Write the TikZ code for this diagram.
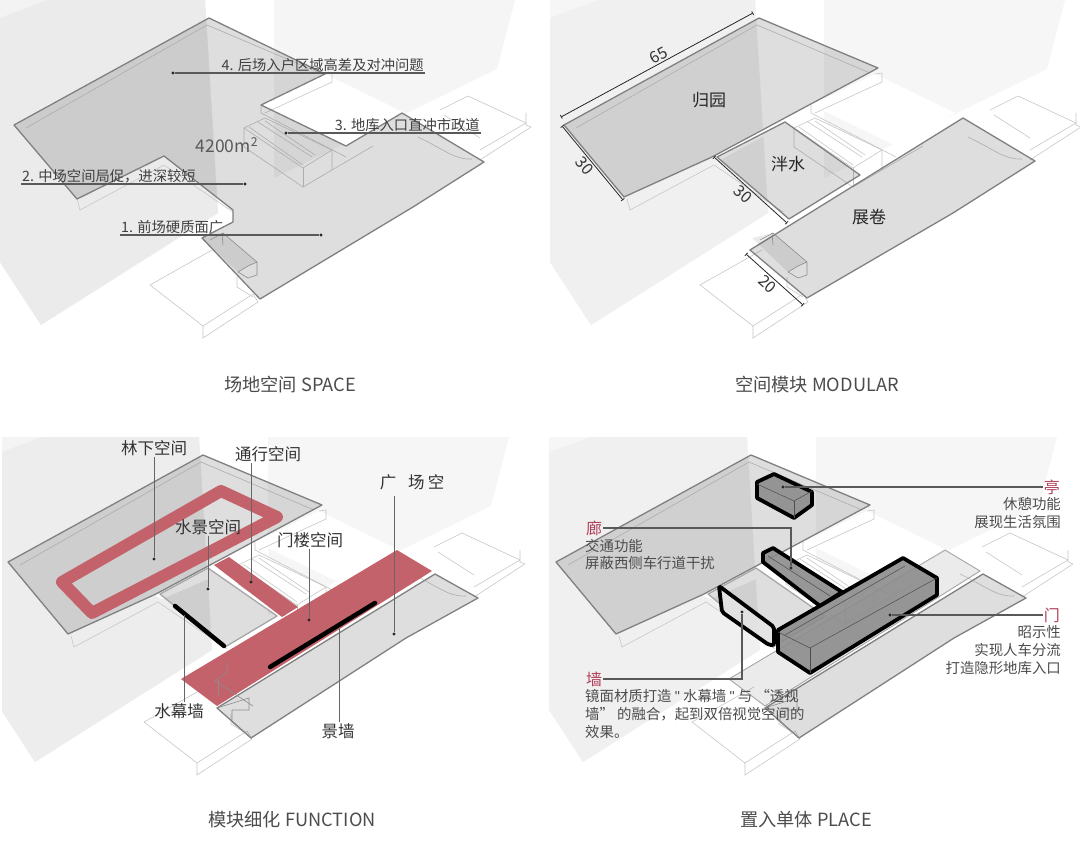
\documentclass[tikz,border=0pt]{standalone}
\usepackage{fontspec}
\setmainfont{Noto Sans CJK SC}
\newfontfamily\quotefont{Liberation Sans}
\usepackage{xcolor}
\usetikzlibrary{arrows.meta,positioning,calc}
\definecolor{blockred}{HTML}{C4626B}
\definecolor{labelred}{HTML}{B0405A}
\tikzset{
  wire/.style    ={draw=black!22, line width=0.6pt},
  modu/.style    ={fill=black, fill opacity=0.13, draw=none},
  moduedge/.style={draw=black!50, line width=1.3pt, line join=round},
  gapw/.style    ={fill=white, draw=none},
  volume/.style  ={draw=black, line width=3.8pt, line join=round, fill=black!45, fill opacity=0.9},
  volline/.style ={draw=black!70, line width=0.5pt},
  rampline/.style={draw=black!45, line width=0.6pt},
  lead/.style    ={draw=black!65, line width=1.1pt},
  leadthin/.style={draw=black!60, line width=0.9pt},
  dotm/.style    ={circle, fill=black!85, inner sep=0pt, minimum size=3.4pt},
  issue/.style   ={font=\fontsize{14.3}{16}\selectfont, text=black!75, inner sep=1pt},
  zone/.style    ={font=\fontsize{16.5}{20}\selectfont, text=black!80, inner sep=1pt},
  modname/.style ={font=\fontsize{17}{20}\selectfont, text=black!85, inner sep=1pt},
  capt/.style    ={font=\fontsize{18.2}{20}\selectfont, text=black!70, inner sep=1pt},
  dimline/.style ={{Bar[width=4pt,length=0.8pt]}-{Bar[width=4pt,length=0.8pt]}, draw=black!85, line width=0.8pt},
  dimnum/.style  ={font=\fontsize{16}{18}\selectfont, text=black!80, inner sep=1.5pt},
  headred/.style ={font=\fontsize{16}{18}\selectfont, text=labelred, inner sep=1pt},
  bodytxt/.style ={font=\fontsize{14.4}{17.7}\selectfont, text=black!70, inner sep=0pt, align=left},
}
% both neighbouring blocks, cut at the panel's left edge (#1)
\newcommand{\neighbours}[3]{
  \colorlet{bldgl}{#2}
  \colorlet{bldgr}{#3}
  \begin{scope}
    \clip (#1,0) rectangle (525,345);
    \fill[bldgl!60!white] (0,0) -- (205,0) -- (218,213) -- (41,325) -- (0,262) -- cycle;
    \fill[bldgl] (0,18) -- (48,0) -- (205,0) -- (218,213) -- (41,325) -- (0,262) -- cycle;
    \fill[bldgr] (274,0) -- (515,0) -- (497,69) -- (274,178) -- cycle;
  \end{scope}
  \fill[gapw] (262,105) -- (325,74) -- (405,113) -- (346,146) -- cycle;
}
\newcommand{\sitewires}{
  \draw[wire] (244,128) -- (265,118) -- (332,150) -- (303,168) -- cycle;
  \draw[wire] (244,128) -- (244,147) -- (303,187) -- (332,170) -- (332,150);
  \draw[wire] (303,168) -- (303,187);
  \draw[wire] (249,127) -- (303,165);
  \draw[wire] (265,121) -- (315,155);
  \draw[wire] (258,122) -- (312,157);
  \draw[wire] (261,105) -- (261,113) -- (346,157);
  \draw[wire] (332,170) -- (373,146);
  \draw[wire] (325,74) -- (332,73) -- (332,82) -- (265,113);
  \draw[wire] (440,110) -- (468,96) -- (526,123) -- (480,150);
  \draw[wire] (526,113) -- (526,125) -- (531,127) -- (480,160);
  \draw[wire] (444,115) -- (480,138);
  \draw[wire] (418,137) .. controls (445,150) and (455,160) .. (472,159);
  \draw[wire] (150,285) -- (212,250);
  \draw[wire] (150,285) -- (203,326) -- (253,294);
  \draw[wire] (203,326) -- (203,338) -- (258,302) -- (253,294);
  \draw[wire] (237,277) -- (237,287) -- (253,297);
  \draw[wire] (77,199) -- (80,210) -- (164,165) -- (233,212);
  \draw[wire] (26,128) -- (207,25) -- (320,73);
}
\newcommand{\ramp}{
  \fill[black, fill opacity=0.08] (202,238) -- (223,233) -- (257,262) -- (248,266) -- (238,272) -- cycle;
  \draw[rampline] (210,240) -- (223,233) -- (257,262) -- (257,275) -- (248,278) -- (238,272) -- (248,266) -- (257,262);
  \draw[rampline] (222,233) -- (223,245);
}
\newcommand{\rampb}{
  \draw[rampline] (223,271) -- (255,261) -- (255,273) -- (238,273) -- (238,285) -- (257,301);
}
% modules shared by the function and place panels
\newcommand{\splitmodules}{
  \fill[gapw] (160,158) -- (225,123) -- (240,131) -- (168,162) -- cycle;
  \fill[modu] (14,125) -- (209,18) -- (328,68) -- (162,157) -- (74,197) -- cycle;
  \draw[moduedge] (14,125) -- (209,18) -- (328,68) -- (162,157) -- (74,197) -- cycle;
  \fill[modu] (166,157) -- (214,131) -- (283,179) -- (231,210) -- cycle;
  \draw[moduedge, draw=black!35] (166,157) -- (214,131) -- (283,179) -- (231,210) -- cycle;
  \fill[modu] (223,271) -- (441,137) -- (484,161) -- (412,201) -- (257,301) -- cycle;
  \draw[moduedge] (223,271) -- (441,137) -- (484,161) -- (412,201) -- (257,301) -- cycle;
}

\begin{document}
\begin{tikzpicture}[x=1pt,y=-1pt]
\useasboundingbox (0,0) rectangle (1080,848);
\fill[white] (0,0) rectangle (1080,848);

% SPACE
\neighbours{0}{black!8}{black!4}
\sitewires
\fill[modu] (209,18) -- (325,74) -- (261,105) -- (346,146) -- (402,113) -- (484,162) -- (413,207) -- (260,299) -- (202,238) -- (233,222) -- (233,210) -- (164,156) -- (77,199) -- (14,125) -- cycle;
\draw[moduedge] (209,18) -- (325,74) -- (261,105) -- (346,146) -- (402,113) -- (484,162) -- (413,207) -- (260,299) -- (202,238) -- (233,222) -- (233,210) -- (164,156) -- (77,199) -- (14,125) -- cycle;
\ramp

\node[dotm] (d4) at (173,73) {};
\node[dotm] (d3) at (286,133) {};
\node[dotm] (d2) at (245,184) {};
\node[dotm] (d1) at (321,235) {};
\node[issue, anchor=south east] (t4) at (425,73) {4. 后场入户区域高差及对冲问题};
\node[issue, anchor=south east] (t3) at (481,133) {3. 地库入口直冲市政道};
\node[issue, anchor=south west] (t2) at (21,184) {2. 中场空间局促，进深较短};
\node[issue, anchor=south west] (t1) at (120,235) {1. 前场硬质面广};
\draw[lead] (t4.south east) -- (d4);
\draw[lead] (t3.south east) -- (d3);
\draw[lead] (t2.south west) -- (d2);
\draw[lead] (t1.south west) -- (d1);
\node[font=\fontsize{17.5}{20}\selectfont, text=black!65] (areatxt) at (227,145) {4200m\textsuperscript{2}};
\node[capt] (capspace) at (290,385) {场地空间 SPACE};

% MODULAR
\begin{scope}[shift={(550,0)}]
  \neighbours{0}{black!6}{black!3.5}
  \fill[gapw] (244,128) -- (265,118) -- (332,150) -- (303,168) -- cycle;
  \fill[gapw] (162,158) -- (225,121) -- (240,122) -- (170,160) -- cycle;
  \sitewires
  \fill[modu] (14,125) -- (209,18) -- (328,68) -- (162,157) -- (74,197) -- cycle;
  \draw[moduedge] (14,125) -- (209,18) -- (328,68) -- (162,157) -- (74,197) -- cycle;
  \fill[modu] (167,157) -- (235,122) -- (310,175) -- (239,219) -- cycle;
  \draw[moduedge] (167,157) -- (235,122) -- (310,175) -- (239,219) -- cycle;
  \fill[modu] (200,250) -- (413,118) -- (485,161) -- (403,213) -- (257,298) -- cycle;
  \draw[moduedge] (200,250) -- (413,118) -- (485,161) -- (403,213) -- (257,298) -- cycle;
  \ramp
\end{scope}
\node[modname] (guiyuan) at (709,100) {归园};
\node[modname] (panshui) at (788,164) {泮水};
\node[modname] (zhanjuan) at (869,217) {展卷};
\coordinate (a65) at (561,117);
\coordinate (b65) at (753,13);
\coordinate (a30) at (562,126);
\coordinate (b30) at (623,200);
\coordinate (c30) at (714,157);
\coordinate (e30) at (787,223);
\coordinate (a20) at (746,254);
\coordinate (b20) at (803,305);
\draw[dimline] (a65) -- node[dimnum, above, sloped, pos=0.53] (n65) {65} (b65);
\draw[dimline] (a30) -- node[dimnum, below, sloped, pos=0.47] (n30a) {30} (b30);
\draw[dimline] (c30) -- node[dimnum, below, sloped, pos=0.47] (n30b) {30} (e30);
\draw[dimline] (a20) -- node[dimnum, below, sloped, pos=0.47] (n20) {20} (b20);
\node[capt] (capmod) at (817,385) {空间模块 MODULAR};

% FUNCTION
\begin{scope}[shift={(-6,437)}]
  \neighbours{8}{black!7}{black!3.5}
  \fill[gapw] (244,128) -- (265,118) -- (332,150) -- (303,168) -- cycle;
  \sitewires
  \splitmodules
  \rampb
\end{scope}
\draw[blockred, line width=12pt, line join=round] (221,491) -- (277,517) -- (92,613) -- (62,582) -- cycle;
\fill[blockred] (214,565) -- (229,557) -- (298,607) -- (282,617) -- cycle;
\fill[blockred] (181,679) -- (397,550) -- (432,571) -- (217,706) -- cycle;
\draw[rampline] (227,662) -- (227,672) -- (215,681) -- (253,706);
\draw[rampline] (218,680) -- (218,695);
\draw[black, line width=4.5pt, line cap=round] (175,606) -- (224,646);
\draw[black, line width=4.5pt, line cap=round] (270,667) -- (375,603);

\node[dotm] (dlin) at (154,559) {};
\node[dotm] (dtong) at (251,582) {};
\node[dotm] (dshui) at (208,589) {};
\node[dotm] (dmen) at (309,620) {};
\node[dotm] (dguang) at (394,634) {};
\coordinate (emu) at (184,615);
\coordinate (ejing) at (339,627);
\node[zone] (tlin) at (154,448) {林下空间};
\node[zone] (ttong) at (268,454) {通行空间};
\node[zone] (tshui) at (208,527) {水景空间};
\node[zone] (tmen) at (310,540) {门楼空间};
\node[zone] (tguang) at (412,482) {广\hspace{12pt}场\hspace{3pt}空};
\node[zone] (tmu) at (179,711) {水幕墙};
\node[zone] (tjing) at (338,731) {景墙};
\draw[leadthin] (dlin |- tlin.south) -- (dlin);
\draw[leadthin] (dtong |- ttong.south) -- (dtong);
\draw[leadthin] (dshui |- tshui.south) -- (dshui);
\draw[leadthin] (dmen |- tmen.south) -- (dmen);
\draw[leadthin] ($(dguang |- tguang.south)+(0,5)$) -- (dguang);
\draw[leadthin] (emu |- tmu.north) -- (emu);
\draw[leadthin] (ejing |- tjing.north) -- (ejing);
\node[capt] (capfun) at (292,820) {模块细化 FUNCTION};

% PLACE
\begin{scope}[shift={(542,437)}]
  \neighbours{7}{black!6}{black!3.5}
  \fill[gapw] (244,128) -- (265,118) -- (332,150) -- (303,168) -- cycle;
  \sitewires
  \splitmodules
  \fill[black, fill opacity=0.08] (187,242) -- (403,113) -- (438,134) -- (223,269) -- cycle;
  \draw[draw=black!35, line width=0.9pt] (187,242) -- (403,113) -- (438,134) -- (223,269) -- cycle;
  \rampb
\end{scope}
\draw[volume] (757,482) -- (774,474) -- (812,492) -- (812,505) -- (794,518) -- (757,498) -- cycle;
\draw[volline] (757,484) -- (794,501) -- (812,491);
\draw[volline] (794,501) -- (794,518);
\draw[volume] (763,553) -- (773,548) -- (842,592) -- (820,606) -- (763,562) -- cycle;
\draw[volline] (768,556) -- (830,596);
\draw[volume, fill=black!10, rounded corners=2pt] (719,586) -- (774,627) -- (774,645) -- (769,645) -- (722,612) -- cycle;
\draw[volume] (778,630) -- (903,558) -- (937,578) -- (937,595) -- (810,673) -- (778,652) -- cycle;
\draw[volline] (778,632) -- (810,648) -- (937,578);
\draw[volline] (810,648) -- (810,673);
\draw[volline] (785,635) -- (905,566);

\node[dotm] (dting) at (783,487) {};
\node[dotm] (dlang) at (791,568) {};
\node[dotm] (dqiang) at (742,612) {};
\node[dotm] (dmenb) at (890,615) {};
\node[headred, anchor=east] (hting) at (1061,487) {亭};
\node[headred, anchor=west] (hlang) at (585,528) {廊};
\node[headred, anchor=west] (hqiang) at (585,679) {墙};
\node[headred, anchor=east] (hmen) at (1061,615) {门};
\node[bodytxt, align=right, below=2pt of hting.south east, anchor=north east] (bting) {休憩功能\\展现生活氛围};
\node[bodytxt, below=2pt of hlang.south west, anchor=north west] (blang) {交通功能\\屏蔽西侧车行道干扰};
\node[bodytxt, below=2pt of hqiang.south west, anchor=north west] (bqiang) {镜面材质打造 {\quotefont\symbol{34}} 水幕墙 {\quotefont\symbol{34}} 与 “透视\\墙” 的融合，起到双倍视觉空间的\\效果。};
\node[bodytxt, align=right, below=2pt of hmen.south east, anchor=north east] (bmen) {昭示性\\实现人车分流\\打造隐形地库入口};
\draw[lead] (hting.west) -- (dting);
\draw[lead] (hlang.east) -| (dlang);
\draw[lead] (hqiang.east) -| (dqiang);
\draw[lead] (hmen.west) -- (dmenb);
\node[capt] (capplace) at (806,820) {置入单体 PLACE};
\end{tikzpicture}
\end{document}
